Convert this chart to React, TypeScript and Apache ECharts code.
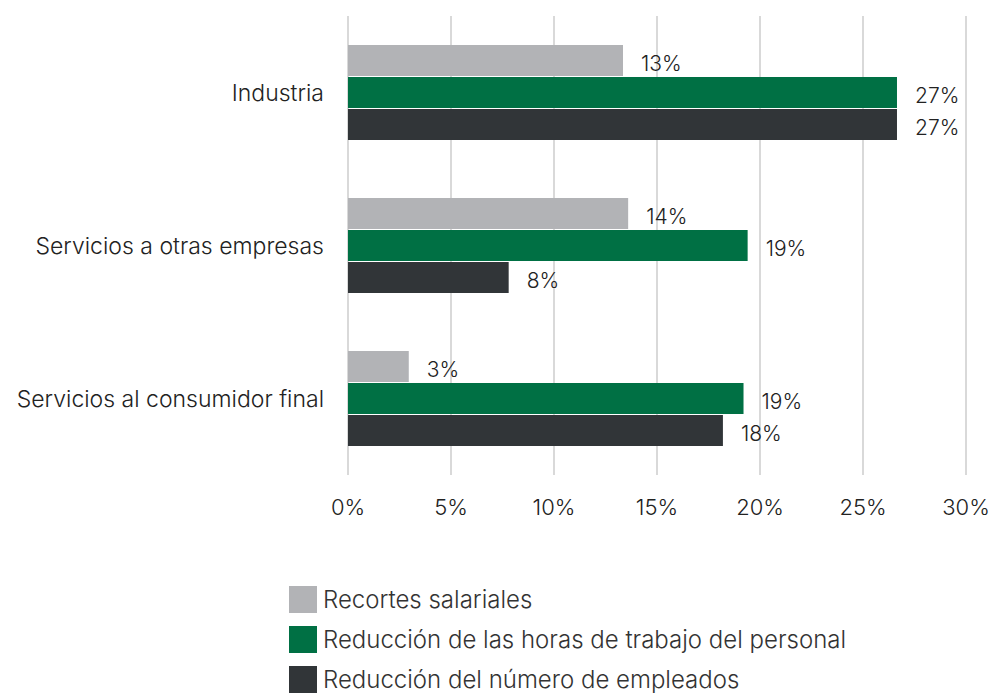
import React, { useEffect, useRef } from "react";
import * as echarts from "echarts";

const categories = ["Industria", "Servicios a otras empresas", "Servicios al consumidor final"];
const seriesNames = [
  "Recortes salariales",
  "Reducción de las horas de trabajo del personal",
  "Reducción del número de empleados",
];
const recortes = [13.35, 13.6, 2.95];
const horas = [26.65, 19.4, 19.2];
const empleados = [26.65, 7.8, 18.2];
const labelsRecortes = ["13%", "14%", "3%"];
const labelsHoras = ["27%", "19%", "19%"];
const labelsEmpleados = ["27%", "8%", "18%"];
const xTicks = [0, 5, 10, 15, 20, 25, 30];

const colors = ["#b2b3b6", "#007044", "#313538"];
const FONT = "Inter, Roboto, sans-serif";

export default function App() {
  const ref = useRef<HTMLDivElement>(null);
  useEffect(() => {
    if (!ref.current) return;
    const chart = echarts.init(ref.current, undefined, { renderer: "svg" });
    const mk = (name: string, data: number[], labels: string[], color: string) => ({
      name,
      type: "bar",
      data,
      barWidth: 31,
      barGap: "3%",
      itemStyle: { color },
      label: {
        show: true,
        position: "right",
        distance: 18,
        offset: [0, 3],
        formatter: (p: any) => labels[p.dataIndex],
        color: "#222",
        fontSize: 21,
        fontWeight: 300,
        fontFamily: FONT,
      },
    });
    chart.setOption({
      animation: false,
      color: colors,
      grid: { left: 348, right: 34, top: 16, height: 459 },
      xAxis: {
        type: "value",
        min: xTicks[0],
        max: xTicks[xTicks.length - 1],
        interval: 5,
        axisLabel: {
          formatter: (v: number) => v + "%",
          color: "#222",
          fontSize: 22,
          fontWeight: 300,
          fontFamily: FONT,
          margin: 21,
        },
        axisLine: { show: false },
        axisTick: { show: false },
        splitLine: { show: true, lineStyle: { color: "#d9d9d9", width: 2 } },
      },
      yAxis: {
        type: "category",
        data: categories,
        inverse: true,
        axisLine: { show: false },
        axisTick: { show: false },
        axisLabel: {
          color: "#222",
          fontSize: 23,
          fontWeight: 300,
          fontFamily: FONT,
          margin: 24,
          padding: [4, 0, 0, 0],
        },
      },
      legend: {
        orient: "vertical",
        left: 289,
        top: 586,
        padding: 0,
        itemWidth: 28,
        itemHeight: 27,
        itemGap: 13,
        icon: "rect",
        textStyle: {
          color: "#333",
          fontSize: 24,
          fontWeight: 300,
          fontFamily: FONT,
          padding: [7, 0, 0, 1],
        },
        data: seriesNames,
      },
      series: [
        mk(seriesNames[0], recortes, labelsRecortes, colors[0]),
        mk(seriesNames[1], horas, labelsHoras, colors[1]),
        mk(seriesNames[2], empleados, labelsEmpleados, colors[2]),
      ],
    });
    return () => chart.dispose();
  }, []);
  return (
    <div
      ref={ref}
      style={{ position: "fixed", left: 0, top: 0, width: 1000, height: 696, background: "#fff" }}
    />
  );
}
